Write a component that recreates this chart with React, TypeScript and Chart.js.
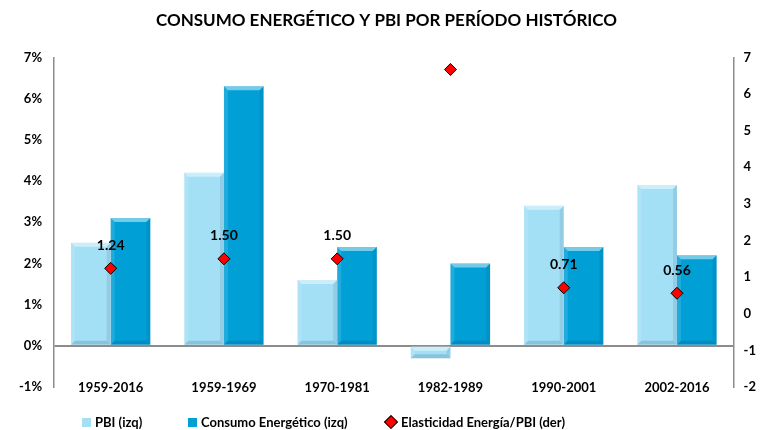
import React, { useEffect, useRef } from "react";
import { Chart, registerables } from "chart.js";

Chart.register(...registerables);

const categories = ["1959-2016", "1959-1969", "1970-1981", "1982-1989", "1990-2001", "2002-2016"];
const pbi = [2.5, 4.2, 1.6, -0.3, 3.4, 3.9];
const consumo = [3.1, 6.3, 2.4, 2.0, 2.4, 2.2];
const elasticidad = [1.24, 1.5, 1.5, 6.67, 0.71, 0.56];
const elasticidadLabels = ["1.24", "1.50", "1.50", "", "0.71", "0.56"];
const seriesNames = ["PBI (izq)", "Consumo Energético (izq)", "Elasticidad Energía/PBI (der)"];
const seriesColors = ["#a3e0f6", "#00a0d6", "#ff0000"];
const titleText = "CONSUMO ENERGÉTICO Y PBI POR PERÍODO HISTÓRICO";

const FONT = "Lato, 'Open Sans', sans-serif";

function poly(ctx: any, pts: number[][], fill: string) {
  ctx.beginPath();
  ctx.moveTo(pts[0][0], pts[0][1]);
  for (let k = 1; k < pts.length; k++) ctx.lineTo(pts[k][0], pts[k][1]);
  ctx.closePath();
  ctx.fillStyle = fill;
  ctx.fill();
}

const bevelPlugin = {
  id: "bevel",
  afterDatasetDraw(chart: any, args: any) {
    if (args.index > 1) return;
    const ctx = chart.ctx;
    ctx.save();
    args.meta.data.forEach((bar: any) => {
      const { x, y, base, width } = bar.getProps(["x", "y", "base", "width"], true);
      const l = x - width / 2;
      const r = x + width / 2;
      const t = Math.min(y, base);
      const bt = Math.max(y, base);
      const b = Math.min(4, (bt - t) / 2.5);
      if (b < 1) return;
      poly(ctx, [[l, t], [r, t], [r - b, t + b], [l + b, t + b]], "rgba(255,255,255,0.45)");
      poly(ctx, [[l, t], [l + b, t + b], [l + b, bt - b], [l, bt]], "rgba(255,255,255,0.12)");
      poly(ctx, [[r, t], [r - b, t + b], [r - b, bt - b], [r, bt]], "rgba(0,40,80,0.10)");
      poly(ctx, [[l, bt], [l + b, bt - b], [r - b, bt - b], [r, bt]], "rgba(0,40,80,0.16)");
    });
    ctx.restore();
  },
};

const labelsPlugin = {
  id: "customLabels",
  afterDatasetsDraw(chart: any) {
    const ctx = chart.ctx;
    const meta = chart.getDatasetMeta(2);
    ctx.save();
    ctx.font = `bold 14px ${FONT}`;
    ctx.fillStyle = "#000";
    ctx.textAlign = "center";
    ctx.textBaseline = "middle";
    meta.data.forEach((pt: any, i: number) => {
      const txt = elasticidadLabels[i];
      if (!txt) return;
      ctx.fillText(txt, pt.x, pt.y - 23);
    });
    const xs = chart.scales.x;
    ctx.font = `bold 13px ${FONT}`;
    categories.forEach((c, i) => {
      ctx.fillText(c, xs.getPixelForValue(i), chart.chartArea.bottom + 1);
    });
    ctx.restore();
  },
};

export default function App() {
  const ref = useRef<HTMLCanvasElement>(null);
  useEffect(() => {
    document.body.style.margin = "0";
    const chart = new Chart(ref.current!, {
      type: "bar",
      data: {
        labels: categories,
        datasets: [
          {
            type: "bar",
            label: seriesNames[0],
            data: pbi,
            backgroundColor: seriesColors[0],
            borderWidth: 0,
            yAxisID: "y",
            order: 2,
            categoryPercentage: 0.7,
            barPercentage: 1.0,
          },
          {
            type: "bar",
            label: seriesNames[1],
            data: consumo,
            backgroundColor: seriesColors[1],
            borderWidth: 0,
            yAxisID: "y",
            order: 2,
            categoryPercentage: 0.7,
            barPercentage: 1.0,
          },
          {
            type: "line",
            label: seriesNames[2],
            data: elasticidad,
            yAxisID: "y1",
            showLine: false,
            pointStyle: "rectRot",
            pointRadius: 6,
            pointBackgroundColor: seriesColors[2],
            pointBorderColor: "#000",
            pointBorderWidth: 1,
            backgroundColor: seriesColors[2],
            borderColor: "#000",
            borderWidth: 1,
            order: 0,
          },
        ],
      },
      options: {
        responsive: false,
        animation: false,
        layout: { padding: { left: 7, right: -4, top: 0, bottom: 43 } },
        plugins: {
          title: {
            display: true,
            text: titleText,
            color: "#000",
            font: { family: FONT, size: 17, weight: "bold" },
            padding: { top: 10, bottom: 27 },
          },
          legend: { display: false },
          tooltip: { enabled: false },
        },
        scales: {
          x: {
            grid: { display: false, drawTicks: false },
            border: { display: false },
            ticks: { display: false },
          },
          y: {
            position: "left",
            min: -1,
            max: 7,
            ticks: {
              stepSize: 1,
              color: "#000",
              padding: 12,
              font: { family: FONT, size: 13, weight: "bold" },
              callback: (v: any) => `${v}%`,
            },
            grid: {
              drawTicks: false,
              color: (c: any) => (c.tick && c.tick.value === 0 ? "#8c8c8c" : "rgba(0,0,0,0)"),
              lineWidth: 2,
            },
            border: { display: true, color: "#8c8c8c", width: 1.5 },
          },
          y1: {
            position: "right",
            min: -2,
            max: 7,
            ticks: {
              stepSize: 1,
              color: "#000",
              padding: 10,
              font: { family: FONT, size: 13, weight: "bold" },
            },
            grid: { display: false, drawTicks: false },
            border: { display: true, color: "#8c8c8c", width: 1.5 },
          },
        },
      },
      plugins: [bevelPlugin, labelsPlugin],
    });
    return () => chart.destroy();
  }, []);

  const legendItem = (i: number, left: number) => (
    <div
      key={i}
      style={{
        position: "absolute",
        left,
        top: 414,
        display: "flex",
        alignItems: "center",
        font: `bold 13px ${FONT}`,
        color: "#000",
        whiteSpace: "nowrap",
      }}
    >
      {i === 2 ? (
        <span
          style={{
            display: "inline-block",
            width: 8,
            height: 8,
            background: seriesColors[2],
            border: "1px solid #000",
            transform: "rotate(45deg)",
            marginRight: 5,
            marginLeft: 1,
          }}
        />
      ) : (
        <span
          style={{
            display: "inline-block",
            width: 9,
            height: 9,
            background: seriesColors[i],
            marginRight: 4,
          }}
        />
      )}
      {seriesNames[i]}
    </div>
  );

  return (
    <div style={{ position: "relative", width: 762, height: 430, background: "#fff" }}>
      <canvas ref={ref} width={762} height={430} style={{ display: "block" }} />
      {legendItem(0, 82)}
      {legendItem(1, 188)}
      {legendItem(2, 385)}
    </div>
  );
}
